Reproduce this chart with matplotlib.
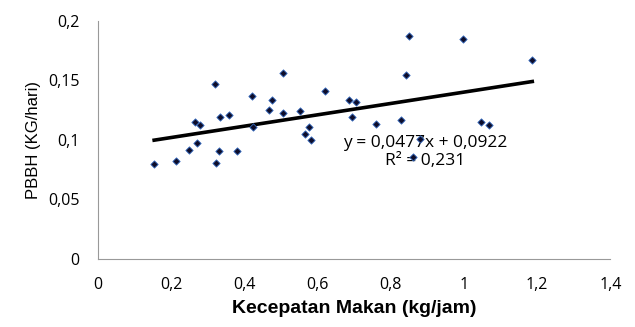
import numpy as np
import matplotlib.pyplot as plt
from matplotlib.ticker import FuncFormatter

# data
kecepatan = [0.154, 0.213, 0.250, 0.272, 0.265, 0.280, 0.320, 0.323, 0.332, 0.334,
             0.358, 0.380, 0.420, 0.425, 0.468, 0.477, 0.505, 0.505, 0.552, 0.576,
             0.565, 0.582, 0.621, 0.685, 0.705, 0.694, 0.759, 0.829, 0.841, 0.850,
             0.861, 0.879, 0.997, 1.046, 1.069, 1.187]
pbbh = [0.0798, 0.0824, 0.0911, 0.0970, 0.1151, 0.1124, 0.1466, 0.0807, 0.0905, 0.1193,
        0.1208, 0.0905, 0.1367, 0.1109, 0.1250, 0.1331, 0.1563, 0.1227, 0.1244, 0.1104,
        0.1050, 0.0995, 0.1412, 0.1331, 0.1317, 0.1188, 0.1129, 0.1166, 0.1546, 0.1869,
        0.0852, 0.1003, 0.1846, 0.1146, 0.1126, 0.1672]
slope, intercept = 0.0477, 0.0922
x_ticks = [0, 0.2, 0.4, 0.6, 0.8, 1.0, 1.2, 1.4]
y_ticks = [0, 0.05, 0.1, 0.15, 0.2]

def koma(v, pos=None):
    s = f"{v:.2f}".rstrip("0").rstrip(".")
    return s.replace(".", ",")

fig = plt.figure(figsize=(6.35, 3.27), dpi=100)
ax = fig.add_axes([0.154, 0.209, 0.807, 0.728])

ax.scatter(kecepatan, pbbh, marker="D", s=14, color="#0d0d2b",
           edgecolors="#3a6fc4", linewidths=0.6, zorder=3)

xl = np.array([min(kecepatan), max(kecepatan)])
ax.plot(xl, slope * xl + intercept, color="black", lw=2.6, zorder=2)

ax.text(0.895, 0.0895, "y = 0,0477x + 0,0922\nR² = 0,231", ha="center", va="center",
        fontsize=12.5, family="Open Sans", linespacing=1.2, zorder=2.5)

ax.set_xlim(0, 1.4)
ax.set_ylim(0, 0.2)
ax.set_xticks(x_ticks)
ax.set_yticks(y_ticks)
ax.xaxis.set_major_formatter(FuncFormatter(koma))
ax.yaxis.set_major_formatter(FuncFormatter(koma))
ax.tick_params(length=0, labelsize=11.5, pad=13)
for lab in ax.get_xticklabels() + ax.get_yticklabels():
    lab.set_family("Open Sans")

for s in ["top", "right"]:
    ax.spines[s].set_visible(False)
for s in ["left", "bottom"]:
    ax.spines[s].set_color("#999999")

ax.set_xlabel("Kecepatan Makan (kg/jam)", fontsize=14, fontweight="bold",
              family="Liberation Sans", labelpad=5)
ax.set_ylabel("PBBH (KG/hari)", fontsize=12, family="Liberation Sans", labelpad=5)

fig.savefig("out.png", dpi=100)
